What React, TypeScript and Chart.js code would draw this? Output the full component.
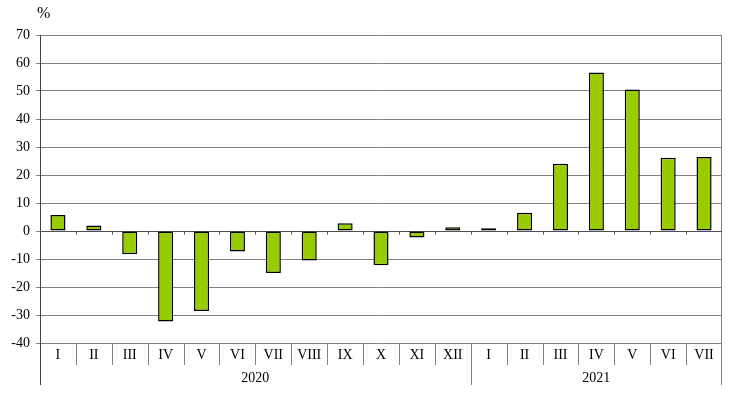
import React, { useEffect, useRef } from "react";
import { Chart, registerables } from "chart.js";
Chart.register(...registerables);

const months = ["I","II","III","IV","V","VI","VII","VIII","IX","X","XI","XII","I","II","III","IV","V","VI","VII"];
const keys = months.map((m, i) => `${i}`);
const values = [5.7, 2.0, -8.3, -32.3, -28.6, -7.3, -15.0, -10.5, 2.8, -12.2, -2.3, 1.3, 1.0, 6.5, 24.0, 56.6, 50.5, 26.2, 26.4];
const years = [{ label: "2020", from: 0, to: 11 }, { label: "2021", from: 12, to: 18 }];
const unitLabel = "%";

const FONT = "'Liberation Serif', 'Times New Roman', serif";

const axisPlugin = {
  id: "customAxis",
  beforeDatasetsDraw(chart: any) {
    const { ctx, chartArea } = chart;
    const x = chart.scales.x;
    const y = chart.scales.y;
    const bottom = chartArea.bottom;
    const half = (x.getPixelForValue(1) - x.getPixelForValue(0)) / 2;
    const zeroY = Math.round(y.getPixelForValue(0)) + 0.5;
    ctx.save();
    ctx.strokeStyle = "#808080";
    ctx.lineWidth = 1;
    const rx = Math.round(chartArea.right) - 0.5;
    ctx.beginPath();
    ctx.moveTo(rx, chartArea.top);
    ctx.lineTo(rx, bottom + 42);
    ctx.stroke();
    ctx.strokeStyle = "#505050";
    ctx.beginPath();
    ctx.moveTo(chartArea.left, zeroY);
    ctx.lineTo(chartArea.right, zeroY);
    ctx.stroke();
    for (let i = 1; i < months.length; i++) {
      const bx = Math.round(x.getPixelForValue(i) - half) + 0.5;
      const isYear = years.some((yr) => yr.from === i);
      ctx.strokeStyle = "#808080";
      ctx.beginPath();
      ctx.moveTo(bx, bottom);
      ctx.lineTo(bx, bottom + (isYear ? 42 : 22));
      ctx.stroke();
      ctx.strokeStyle = "#505050";
      ctx.beginPath();
      ctx.moveTo(bx, zeroY);
      ctx.lineTo(bx, zeroY + 3);
      ctx.stroke();
    }
    ctx.strokeStyle = "#404040";
    ctx.beginPath();
    ctx.moveTo(Math.round(chartArea.left) + 0.5, bottom);
    ctx.lineTo(Math.round(chartArea.left) + 0.5, bottom + 42);
    ctx.stroke();
    ctx.restore();
  },
  afterDraw(chart: any) {
    const { ctx, chartArea } = chart;
    const x = chart.scales.x;
    const bottom = chartArea.bottom;
    const half = (x.getPixelForValue(1) - x.getPixelForValue(0)) / 2;
    ctx.save();
    ctx.fillStyle = "#000";
    ctx.font = `14px ${FONT}`;
    ctx.textAlign = "center";
    ctx.textBaseline = "middle";
    months.forEach((m, i) => {
      ctx.fillText(m, x.getPixelForValue(i), bottom + 12);
    });
    years.forEach((yr) => {
      const cx = (x.getPixelForValue(yr.from) - half + x.getPixelForValue(yr.to) + half) / 2;
      ctx.fillText(yr.label, cx, bottom + 35);
    });
    ctx.font = `16px ${FONT}`;
    ctx.textAlign = "left";
    ctx.fillText(unitLabel, 37, 14);
    ctx.restore();
  },
};

export default function App() {
  const ref = useRef<HTMLCanvasElement>(null);
  useEffect(() => {
    const chart = new Chart(ref.current!, {
      type: "bar",
      data: {
        labels: keys,
        datasets: [
          {
            data: values,
            backgroundColor: "#99cc00",
            borderColor: "#000000",
            borderWidth: 1.5,
            borderSkipped: false,
            barPercentage: 0.42,
            categoryPercentage: 1,
          },
        ],
      },
      options: {
        responsive: false,
        animation: false,
        layout: { padding: { top: 35, right: 8, bottom: 53, left: 0 } },
        plugins: { legend: { display: false }, tooltip: { enabled: false } },
        scales: {
          x: { display: false },
          y: {
            min: -40,
            max: 70,
            afterFit(scale: any) { scale.width = 40; },
            ticks: { stepSize: 10, color: "#000", font: { size: 14, family: FONT }, padding: 6 },
            grid: { color: "#808080", lineWidth: 1, tickLength: 4 },
            border: { display: true, color: "#404040", width: 1 },
          },
        },
      },
      plugins: [axisPlugin],
    });
    return () => chart.destroy();
  }, []);
  return (
    <div style={{ position: "fixed", left: 0, top: 0, width: 730, height: 396, background: "#fff" }}>
      <canvas ref={ref} width={730} height={396} />
    </div>
  );
}
